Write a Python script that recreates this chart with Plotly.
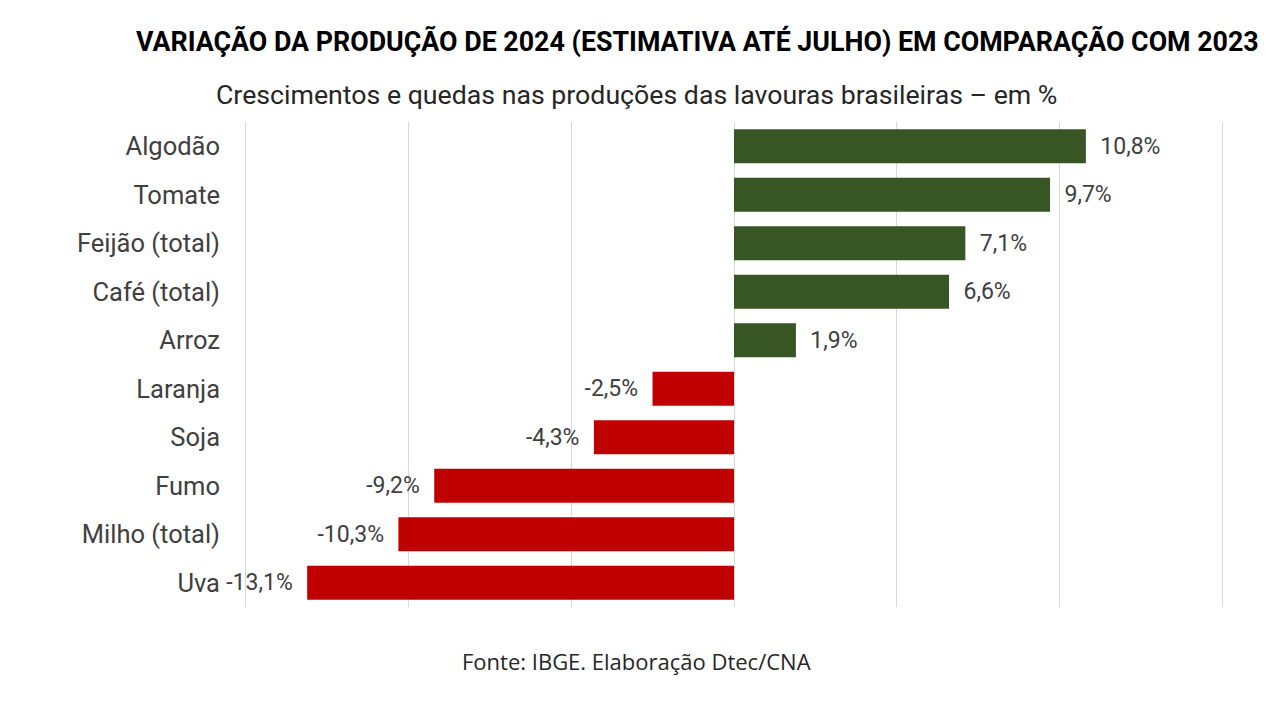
import plotly.graph_objects as go

categories = ["Algodão", "Tomate", "Feijão (total)", "Café (total)", "Arroz",
              "Laranja", "Soja", "Fumo", "Milho (total)", "Uva"]
values = [10.8, 9.7, 7.1, 6.6, 1.9, -2.5, -4.3, -9.2, -10.3, -13.1]
labels = [f"{v:.1f}%".replace(".", ",") for v in values]
colors = ["#375623" if v > 0 else "#C00000" for v in values]

pad = "\u00a0\u00a0"
texts = [(pad + t) if v > 0 else (t + pad) for t, v in zip(labels, values)]

OFF = 8  # page body offset
EXT = 0.1  # small range extension so edge gridlines are drawn
SCALE = 978 / 30.0
ex_px = EXT * SCALE
L, R, T, B = 245 - OFF - ex_px, 57 + OFF - ex_px, 122 - OFF, 113 + OFF
W, H = 1280, 720

fig = go.Figure(go.Bar(
    y=categories, x=values, orientation="h",
    marker=dict(color=colors, line=dict(width=0)),
    width=0.7,
    text=texts, textposition="outside", cliponaxis=False,
    textfont=dict(family="Roboto, sans-serif", size=23, color="#404040"),
))

fig.update_layout(
    width=W, height=H,
    paper_bgcolor="white", plot_bgcolor="white",
    margin=dict(l=L, r=R, t=T, b=B, autoexpand=False),
    showlegend=False,
    xaxis=dict(range=[-15 - EXT, 15 + EXT], tickvals=[-15, -10, -5, 0, 5, 10, 15],
               showticklabels=False, showgrid=True, gridcolor="#D9D9D9",
               gridwidth=1, zeroline=False, showline=False, fixedrange=True),
    yaxis=dict(autorange="reversed", showgrid=False, zeroline=False,
               tickfont=dict(family="Roboto, sans-serif", size=25.5, color="#404040"),
               ticklabelstandoff=int(round(24 - ex_px)), showline=False, automargin=False),
)

pw = W - L - R
ph = H - T - B
def ann(text, px, py, size, family, color):
    fig.add_annotation(text=text, x=(px - OFF - L) / pw, y=1 - (py - OFF - T) / ph,
                       xref="paper", yref="paper", showarrow=False,
                       xanchor="center", yanchor="middle",
                       font=dict(family=family, size=size, color=color))

ann("<b>VARIAÇÃO DA PRODUÇÃO DE 2024 (ESTIMATIVA ATÉ JULHO) EM COMPARAÇÃO COM 2023</b>",
    697, 42, 26.8, "Roboto, sans-serif", "#000000")
ann("Crescimentos e quedas nas produções das lavouras brasileiras – em %",
    636, 95, 26.7, "Roboto, sans-serif", "#262626")
ann("Fonte: IBGE. Elaboração Dtec/CNA", 636, 661, 22, "Open Sans, sans-serif", "#262626")

fig.write_html("out.html")
